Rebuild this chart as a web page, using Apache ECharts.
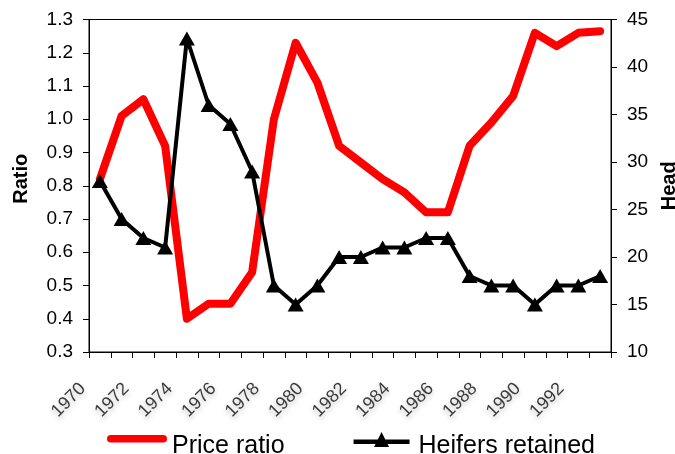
<!DOCTYPE html>
<html>
<head>
<meta charset="utf-8">
<script src="https://cdn.jsdelivr.net/npm/echarts@6/dist/echarts.min.js"></script>
<style>
html,body{margin:0;padding:0;background:#fff;}
#chart{width:675px;height:454px;}
</style>
</head>
<body>
<div id="chart"></div>
<script>
var years = ['1970','1971','1972','1973','1974','1975','1976','1977','1978','1979','1980','1981','1982','1983','1984','1985','1986','1987','1988','1989','1990','1991','1992','1993'];
var priceRatio = [0.82,1.01,1.06,0.92,0.40,0.445,0.445,0.54,1.00,1.23,1.11,0.92,0.87,0.82,0.78,0.72,0.72,0.92,0.99,1.07,1.26,1.22,1.26,1.265];
var heifers = [28,24,22,21,43,36,34,29,17,15,17,20,20,21,21,22,22,18,17,17,15,17,17,18];

var chart = echarts.init(document.getElementById('chart'), null, {renderer:'canvas'});
var FONT = 'Liberation Sans, Arial, sans-serif';
// legend icons (box 60 x 30); tiny segments fix the bounding box
var redIcon = 'path://M0,0L0.01,0M60,30L59.99,30M3.75,4H56.25A3.75,3.75,0,0,1,56.25,11.5H3.75A3.75,3.75,0,0,1,3.75,4Z';
var blackIcon = 'path://M0,0L0.01,0M60,30L59.99,30M0,8.5H56V13H0ZM28,1L35.5,16H20.5Z';
chart.setOption({
  animation: false,
  backgroundColor: '#fff',
  grid: {left: 89, right: 64, top: 19.5, bottom: 102, outerBoundsMode: 'none', containLabel: false,
    show: true, borderColor: '#000', borderWidth: 1, backgroundColor: 'transparent'},
  legend: {
    orient: 'horizontal', left: 102, top: 426, itemWidth: 60, itemHeight: 30, itemGap: 69, itemTextGap: 4,
    textStyle: {fontFamily: FONT, fontSize: 25, color: '#000'},
    data: [{name: 'Price ratio', icon: redIcon}, {name: 'Heifers retained', icon: blackIcon}]
  },
  xAxis: {
    type: 'category', data: years, boundaryGap: true,
    axisLine: {lineStyle: {color: '#000', width: 1}},
    axisTick: {show: true, interval: 0, length: 6, lineStyle: {color: '#000'}},
    axisLabel: {interval: 1, rotate: 45, margin: 17, padding: [0, 24, 0, 0], fontFamily: FONT, fontSize: 18, color: '#3a3a3a',
      textShadowColor: 'rgba(0,0,0,0.25)', textShadowBlur: 5, textShadowOffsetY: 3},
    splitLine: {show: false}
  },
  yAxis: [{
    type: 'value', min: 0.3, max: 1.3, interval: 0.1,
    name: 'Ratio', nameLocation: 'middle', nameRotate: 90, nameGap: 58,
    nameTextStyle: {fontFamily: FONT, fontSize: 20, fontWeight: 'bold', color: '#000', padding: [0, 0, 0, 14]},
    axisLine: {show: true, lineStyle: {color: '#000', width: 1}},
    axisTick: {show: true, length: 6, lineStyle: {color: '#000'}},
    axisLabel: {margin: 16, fontFamily: FONT, fontSize: 19, color: '#000', formatter: function(v){return v.toFixed(1);}},
    splitLine: {show: false}
  }, {
    type: 'value', min: 10, max: 45, interval: 5, position: 'right',
    name: 'Head', nameLocation: 'middle', nameRotate: 90, nameGap: 48,
    nameTextStyle: {fontFamily: FONT, fontSize: 20, fontWeight: 'bold', color: '#000'},
    axisLine: {show: true, lineStyle: {color: '#000', width: 1}},
    axisTick: {show: true, length: 6, lineStyle: {color: '#000'}},
    axisLabel: {margin: 16, fontFamily: FONT, fontSize: 19, color: '#000'},
    splitLine: {show: false}
  }],
  series: [{
    name: 'Price ratio', type: 'line', yAxisIndex: 0, data: priceRatio,
    symbol: 'none', lineStyle: {color: '#ff0000', width: 8, cap: 'round', join: 'round'},
    itemStyle: {color: '#ff0000'}
  }, {
    name: 'Heifers retained', type: 'line', yAxisIndex: 1, data: heifers,
    symbol: 'triangle', symbolSize: [16, 14],
    lineStyle: {color: '#000', width: 4, join: 'round'},
    itemStyle: {color: '#000'}
  }]
});
</script>
</body>
</html>
